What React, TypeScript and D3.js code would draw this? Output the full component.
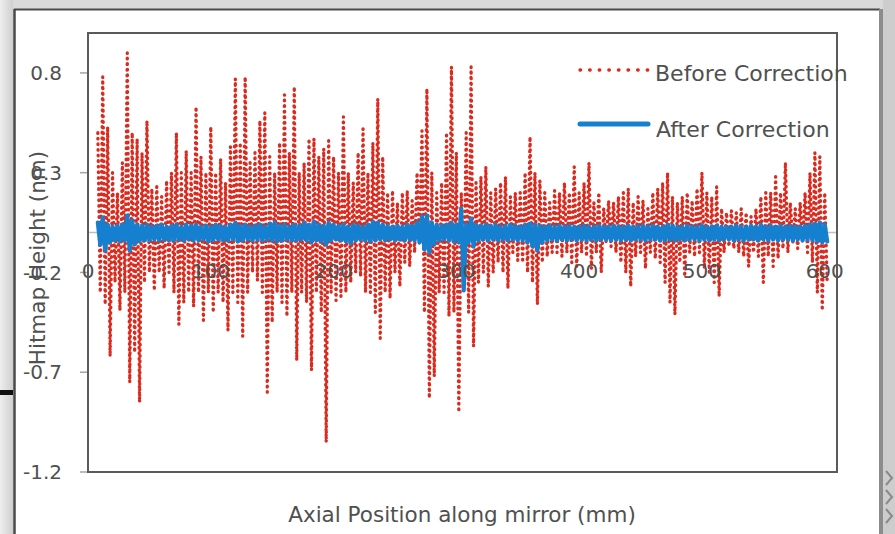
import React from "react";
import * as d3 from "d3";

// ---- data ----
const sampleStartMm = 8;
const sampleStepMm = 4; // each step holds one crest and one trough

const beforeHigh = [
  0.5, 0.78, 0.53, 0.3, 0.2, 0.35, 0.9, 0.5, 0.47, 0.4,
  0.56, 0.22, 0.23, 0.18, 0.26, 0.3, 0.5, 0.3, 0.41, 0.3,
  0.63, 0.38, 0.3, 0.53, 0.3, 0.37, 0.25, 0.43, 0.77, 0.45,
  0.78, 0.35, 0.4, 0.56, 0.6, 0.38, 0.3, 0.45, 0.69, 0.4,
  0.73, 0.3, 0.35, 0.47, 0.47, 0.38, 0.42, 0.46, 0.38, 0.3,
  0.58, 0.3, 0.25, 0.4, 0.52, 0.3, 0.45, 0.67, 0.38, 0.2,
  0.21, 0.15, 0.2, 0.21, 0.16, 0.3, 0.51, 0.72, 0.3, 0.2,
  0.25, 0.5, 0.83, 0.4, 0.2, 0.5, 0.83, 0.25, 0.28, 0.33,
  0.2, 0.22, 0.25, 0.28, 0.18, 0.2, 0.2, 0.3, 0.48, 0.3,
  0.26, 0.2, 0.15, 0.21, 0.2, 0.25, 0.2, 0.33, 0.2, 0.25,
  0.35, 0.15, 0.2, 0.12, 0.16, 0.15, 0.18, 0.2, 0.22, 0.15,
  0.18, 0.16, 0.12, 0.2, 0.22, 0.25, 0.3, 0.18, 0.15, 0.18,
  0.2, 0.16, 0.22, 0.3, 0.2, 0.18, 0.23, 0.12, 0.1, 0.11,
  0.1, 0.12, 0.1, 0.08, 0.12, 0.18, 0.2, 0.2, 0.28, 0.2,
  0.35, 0.15, 0.12, 0.15, 0.2, 0.3, 0.4, 0.38, 0.2,
];

const beforeLow = [
  -0.3, -0.36, -0.62, -0.25, -0.39, -0.3, -0.75, -0.6, -0.85, -0.25,
  -0.2, -0.29, -0.2, -0.28, -0.2, -0.3, -0.46, -0.35, -0.3, -0.37,
  -0.3, -0.44, -0.3, -0.4, -0.3, -0.35, -0.49, -0.3, -0.35, -0.52,
  -0.3, -0.2, -0.24, -0.3, -0.8, -0.45, -0.3, -0.35, -0.42, -0.3,
  -0.64, -0.3, -0.35, -0.69, -0.3, -0.4, -1.05, -0.3, -0.34, -0.32,
  -0.3, -0.25, -0.2, -0.22, -0.3, -0.3, -0.4, -0.53, -0.3, -0.33,
  -0.2, -0.27, -0.15, -0.17, -0.1, -0.05, -0.4, -0.83, -0.72, -0.3,
  -0.3, -0.42, -0.4, -0.9, -0.3, -0.4, -0.57, -0.25, -0.2, -0.27,
  -0.2, -0.15, -0.2, -0.28, -0.1, -0.14, -0.15, -0.2, -0.25, -0.36,
  -0.15, -0.12, -0.1, -0.1, -0.12, -0.1, -0.15, -0.17, -0.1, -0.12,
  -0.18, -0.1, -0.2, -0.05, -0.07, -0.1, -0.15, -0.2, -0.27, -0.12,
  -0.1, -0.18, -0.1, -0.13, -0.15, -0.25, -0.35, -0.41, -0.15, -0.22,
  -0.1, -0.12, -0.1, -0.18, -0.2, -0.25, -0.32, -0.1, -0.07, -0.08,
  -0.1, -0.12, -0.17, -0.1, -0.12, -0.25, -0.12, -0.17, -0.13, -0.08,
  -0.1, -0.05, -0.08, -0.05, -0.1, -0.15, -0.3, -0.39, -0.25,
];

const afterHigh = [
  0.05, 0.075, 0.04, 0.03, 0.035, 0.04, 0.085, 0.06, 0.04, 0.035,
  0.04, 0.03, 0.035, 0.04, 0.03, 0.035, 0.04, 0.03, 0.04, 0.035,
  0.04, 0.03, 0.035, 0.03, 0.04, 0.035, 0.03, 0.04, 0.05, 0.035,
  0.04, 0.03, 0.035, 0.04, 0.03, 0.045, 0.05, 0.035, 0.04, 0.03,
  0.04, 0.035, 0.05, 0.04, 0.055, 0.04, 0.035, 0.05, 0.04, 0.035,
  0.04, 0.03, 0.04, 0.035, 0.03, 0.04, 0.055, 0.05, 0.04, 0.035,
  0.03, 0.035, 0.03, 0.04, 0.035, 0.05, 0.08, 0.085, 0.05, 0.04,
  0.035, 0.04, 0.05, 0.04, 0.12, 0.04, 0.07, 0.04, 0.035, 0.04,
  0.035, 0.04, 0.03, 0.035, 0.04, 0.035, 0.03, 0.04, 0.045, 0.04,
  0.035, 0.03, 0.035, 0.03, 0.035, 0.03, 0.035, 0.03, 0.03, 0.035,
  0.03, 0.03, 0.035, 0.03, 0.03, 0.035, 0.03, 0.03, 0.035, 0.03,
  0.03, 0.035, 0.03, 0.035, 0.03, 0.03, 0.04, 0.035, 0.03, 0.03,
  0.035, 0.03, 0.03, 0.035, 0.03, 0.03, 0.035, 0.03, 0.03, 0.03,
  0.035, 0.03, 0.03, 0.035, 0.03, 0.04, 0.03, 0.035, 0.03, 0.035,
  0.03, 0.035, 0.03, 0.03, 0.035, 0.04, 0.045, 0.05, 0.04,
];

const afterLow = [
  -0.06, -0.09, -0.05, -0.04, -0.045, -0.04, -0.09, -0.06, -0.045, -0.04,
  -0.04, -0.035, -0.04, -0.035, -0.04, -0.04, -0.035, -0.04, -0.035, -0.04,
  -0.04, -0.035, -0.045, -0.04, -0.035, -0.04, -0.04, -0.035, -0.045, -0.04,
  -0.035, -0.04, -0.035, -0.04, -0.035, -0.04, -0.045, -0.04, -0.035, -0.04,
  -0.04, -0.035, -0.04, -0.05, -0.04, -0.045, -0.06, -0.04, -0.035, -0.04,
  -0.045, -0.055, -0.04, -0.035, -0.04, -0.045, -0.04, -0.035, -0.04, -0.035,
  -0.04, -0.035, -0.04, -0.035, -0.04, -0.05, -0.085, -0.1, -0.06, -0.04,
  -0.035, -0.04, -0.045, -0.05, -0.29, -0.05, -0.07, -0.04, -0.035, -0.04,
  -0.035, -0.04, -0.035, -0.04, -0.035, -0.04, -0.04, -0.05, -0.07, -0.09,
  -0.05, -0.04, -0.035, -0.04, -0.035, -0.04, -0.035, -0.04, -0.035, -0.04,
  -0.035, -0.04, -0.035, -0.035, -0.04, -0.035, -0.04, -0.035, -0.04, -0.035,
  -0.035, -0.04, -0.035, -0.035, -0.04, -0.04, -0.035, -0.04, -0.035, -0.04,
  -0.035, -0.035, -0.04, -0.035, -0.04, -0.035, -0.04, -0.035, -0.035, -0.04,
  -0.035, -0.04, -0.035, -0.035, -0.04, -0.035, -0.04, -0.035, -0.04, -0.035,
  -0.035, -0.04, -0.035, -0.04, -0.035, -0.04, -0.045, -0.05, -0.045,
];

const xTicks = [0, 100, 200, 300, 400, 500, 600];
const yTicks = [-1.2, -0.7, -0.2, 0.3, 0.8];
const seriesNames = ["Before Correction", "After Correction"];
const xTitle = "Axial Position along mirror (mm)";
const yTitle = "Hitmap Height (nm)";

// ---- layout ----
const W = 895;
const H = 534;
const plot = { left: 88, right: 837, top: 33, bottom: 472 };
const RED = "#dc2a1e";
const BLUE = "#1680d0";
const TEXT = "#505050";
const FONT = "'DejaVu Sans', Verdana, sans-serif";

type Pt = { x: number; v: number };

function interleave(hi: number[], lo: number[]): Pt[] {
  const out: Pt[] = [];
  hi.forEach((h, i) => {
    const base = sampleStartMm + sampleStepMm * i;
    out.push({ x: base, v: h });
    out.push({ x: base + sampleStepMm / 2, v: lo[i] });
  });
  return out;
}

export default function App() {
  const x = d3.scaleLinear().domain([0, 610]).range([plot.left, plot.right]);
  const y = d3.scaleLinear().domain([-1.2, 1.0]).range([plot.bottom, plot.top]);

  const line = d3
    .line<Pt>()
    .x((d) => x(d.x))
    .y((d) => y(d.v));

  const before = interleave(beforeHigh, beforeLow);
  const after = interleave(afterHigh, afterLow);

  return (
    <div style={{ position: "fixed", left: 0, top: 0 }}>
      <svg width={W} height={H} style={{ display: "block" }}>
        <defs>
          <linearGradient id="leftStrip" x1="0" x2="1" y1="0" y2="0">
            <stop offset="0" stopColor="#eeeeee" />
            <stop offset="1" stopColor="#cfcfcf" />
          </linearGradient>
        </defs>
        {/* outer background */}
        <rect x={0} y={0} width={W} height={H} fill="#dadada" />
        <rect x={0} y={0} width={13} height={H} fill="url(#leftStrip)" />
        <rect x={883} y={0} width={12} height={H} fill="#cdcdcd" />
        {/* white panel */}
        <rect x={14} y={9} width={865} height={H - 9} fill="#ffffff" />
        <line x1={14.5} y1={9} x2={14.5} y2={H} stroke="#4a4a4a" strokeWidth={2.5} />
        <line x1={14} y1={9.5} x2={880} y2={9.5} stroke="#4a4a4a" strokeWidth={2} />
        <line x1={881} y1={9} x2={881} y2={H} stroke="#8c8c8c" strokeWidth={4} />
        <rect x={0} y={390} width={13} height={5} fill="#111111" />
        {[478, 497, 516].map((cy) => (
          <path
            key={cy}
            d={`M886,${cy - 7} L892,${cy} L886,${cy + 7}`}
            fill="none"
            stroke="#8a8a8a"
            strokeWidth={2}
          />
        ))}

        {/* zero line (horizontal axis) */}
        <line
          x1={plot.left}
          x2={plot.right}
          y1={y(0)}
          y2={y(0)}
          stroke="#bfbfbf"
          strokeWidth={1.5}
        />

        {/* y ticks */}
        {yTicks.map((t) => (
          <g key={t}>
            <line
              x1={plot.left - 8}
              x2={plot.left}
              y1={y(t)}
              y2={y(t)}
              stroke="#a6a6a6"
              strokeWidth={1.5}
            />
            <text
              x={plot.left - 26}
              y={y(t)}
              dy="0.36em"
              textAnchor="end"
              fontFamily={FONT}
              fontSize={20}
              fill={TEXT}
            >
              {t.toFixed(1)}
            </text>
          </g>
        ))}

        {/* series */}
        <path
          d={line(before) || ""}
          fill="none"
          stroke={RED}
          strokeWidth={3.3}
          strokeDasharray="0.6 5"
          strokeLinecap="round"
          strokeLinejoin="round"
        />
        <path
          d={line(after) || ""}
          fill="none"
          stroke={BLUE}
          strokeWidth={4.2}
          strokeLinejoin="round"
          strokeLinecap="round"
        />

        {/* x tick labels */}
        {xTicks.map((t) => (
          <text
            key={t}
            x={x(t)}
            y={y(0) + 45}
            textAnchor="middle"
            fontFamily={FONT}
            fontSize={20}
            fill={TEXT}
          >
            {t}
          </text>
        ))}

        {/* plot border */}
        <rect
          x={plot.left}
          y={plot.top}
          width={plot.right - plot.left}
          height={plot.bottom - plot.top}
          fill="none"
          stroke="#5a5a5a"
          strokeWidth={2}
        />

        {/* legend */}
        <line
          x1={580}
          x2={648}
          y1={70}
          y2={70}
          stroke={RED}
          strokeWidth={3.3}
          strokeDasharray="0.6 9"
          strokeLinecap="round"
        />
        <text x={655} y={81} fontFamily={FONT} fontSize={22} fill={TEXT}>
          {seriesNames[0]}
        </text>
        <line x1={580} x2={648} y1={124} y2={124} stroke={BLUE} strokeWidth={5} strokeLinecap="round" />
        <text x={656} y={137} fontFamily={FONT} fontSize={22} fill={TEXT}>
          {seriesNames[1]}
        </text>

        {/* axis titles */}
        <text
          x={462}
          y={522}
          textAnchor="middle"
          fontFamily={FONT}
          fontSize={21.5}
          fill={TEXT}
        >
          {xTitle}
        </text>
        <text
          transform={`translate(37, 258) rotate(-90)`}
          textAnchor="middle"
          dy="0.35em"
          fontFamily={FONT}
          fontSize={21.5}
          fill={TEXT}
        >
          {yTitle}
        </text>
      </svg>
    </div>
  );
}
